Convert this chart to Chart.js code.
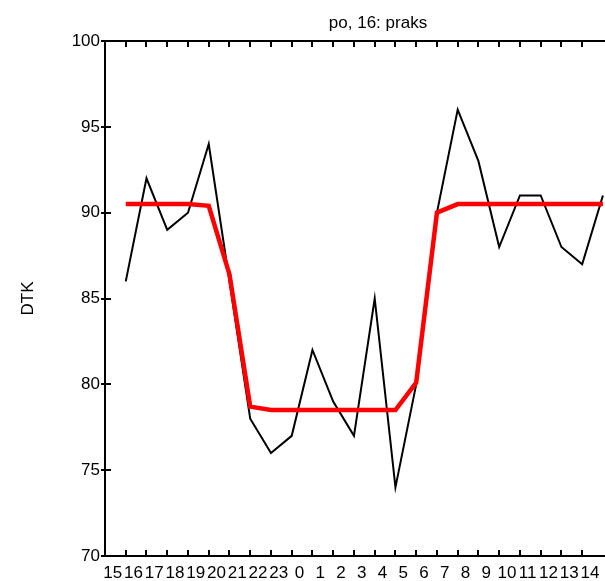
<!DOCTYPE html>
<html>
<head>
<meta charset="utf-8">
<script src="https://cdn.jsdelivr.net/npm/chart.js@4/dist/chart.umd.min.js"></script>
<style>
  html, body { margin: 0; padding: 0; background: #fff; }
  #wrap { width: 605px; height: 581px; }
</style>
</head>
<body>
<div id="wrap"><canvas id="c" width="605" height="581"></canvas></div>
<script>
const chartTitle = 'po, 16: praks';
const yAxisTitle = 'DTK';
const categories = ['15','16','17','18','19','20','21','22','23','0','1','2','3','4','5','6','7','8','9','10','11','12','13','14'];
const actual = [86, 92, 89, 90, 94, 86, 78, 76, 77, 82, 79, 77, 85, 74, 80, 90, 96, 93, 88, 91, 91, 88, 87, 91];
const model  = [90.5, 90.5, 90.5, 90.5, 90.4, 86.4, 78.7, 78.5, 78.5, 78.5, 78.5, 78.5, 78.5, 78.5, 80.1, 90.0, 90.5, 90.5, 90.5, 90.5, 90.5, 90.5, 90.5, 90.5];
const yTicks = [70, 75, 80, 85, 90, 95, 100];

const FONT = 'Liberation Sans, Arial, sans-serif';

const framePlugin = {
  id: 'frame',
  afterDraw(chart) {
    const ctx = chart.ctx;
    const a = chart.chartArea;
    const xs = chart.scales.x, ys = chart.scales.y;
    ctx.save();
    ctx.strokeStyle = '#000';
    ctx.lineWidth = 2;
    ctx.beginPath();
    ctx.moveTo(a.left - 1, a.top);
    ctx.lineTo(a.right, a.top);
    ctx.stroke();
    xs.ticks.forEach(t => {
      const px = Math.round(xs.getPixelForValue(t.value));
      if (px > a.right - 5) return;
      ctx.beginPath();
      ctx.moveTo(px, a.bottom);
      ctx.lineTo(px, a.bottom - 6);
      ctx.moveTo(px, a.top);
      ctx.lineTo(px, a.top + 6);
      ctx.stroke();
    });
    ys.ticks.forEach(t => {
      const py = Math.round(ys.getPixelForValue(t.value));
      ctx.beginPath();
      ctx.moveTo(a.left - 4, py);
      ctx.lineTo(a.left + 6, py);
      ctx.stroke();
    });
    ctx.fillStyle = '#000';
    ctx.font = '17px ' + FONT;
    ctx.textAlign = 'center';
    ctx.textBaseline = 'middle';
    ctx.fillText(chartTitle, 378, 23);
    ctx.restore();
  }
};

new Chart(document.getElementById('c'), {
  type: 'line',
  data: {
    datasets: [
      {
        label: 'model',
        data: model.map((v, i) => ({x: i, y: v})),
        borderColor: '#ff0000',
        borderWidth: 4.5,
        pointRadius: 0,
        tension: 0,
        fill: false
      },
      {
        label: 'actual',
        data: actual.map((v, i) => ({x: i, y: v})),
        borderColor: '#000000',
        borderWidth: 2,
        pointRadius: 0,
        tension: 0,
        fill: false
      }
    ]
  },
  options: {
    responsive: false,
    animation: false,
    devicePixelRatio: 1,
    layout: { padding: { top: 41, left: 0, right: 0, bottom: 0 } },
    plugins: {
      legend: { display: false },
      title: { display: false },
      tooltip: { enabled: false }
    },
    scales: {
      x: {
        type: 'linear',
        min: -1,
        max: 23.1,
        afterBuildTicks: s => { s.ticks = categories.map((_, i) => ({ value: i })); },
        afterFit: s => { s.height = 25; s.paddingLeft = 0; s.paddingRight = 0; },
        grid: { display: false, drawTicks: false },
        border: { display: true, color: '#000', width: 2 },
        ticks: {
          autoSkip: false,
          maxRotation: 0,
          minRotation: 0,
          labelOffset: -13,
          padding: 7,
          color: '#000',
          font: { family: FONT, size: 17 },
          callback: v => categories[v]
        }
      },
      y: {
        type: 'linear',
        min: 70,
        max: 100,
        afterBuildTicks: s => { s.ticks = yTicks.map(v => ({ value: v })); },
        afterFit: s => { s.width = 105; s.paddingTop = 0; s.paddingBottom = 0; },
        grid: { display: false, drawTicks: false },
        border: { display: true, color: '#000', width: 2 },
        ticks: {
          padding: 5,
          color: '#000',
          font: { family: FONT, size: 17 },
          callback: v => String(v)
        },
        title: {
          display: true,
          text: yAxisTitle,
          color: '#000',
          font: { family: FONT, size: 17 },
          padding: { top: 18, bottom: 0 }
        }
      }
    }
  },
  plugins: [framePlugin]
});
</script>
</body>
</html>
